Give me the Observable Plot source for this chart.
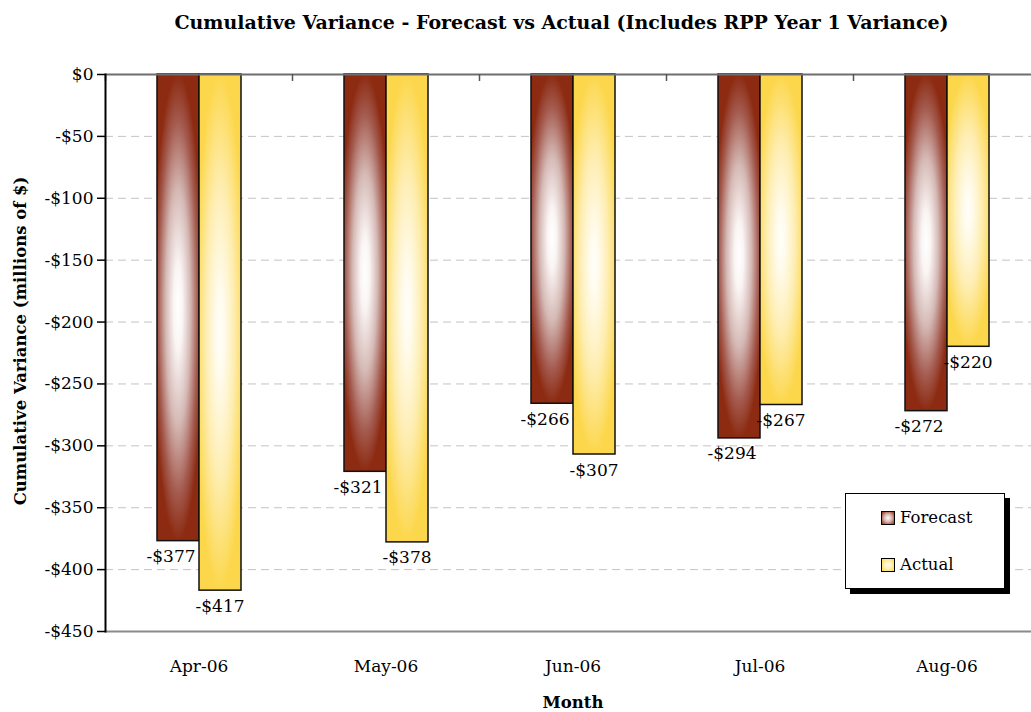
<!DOCTYPE html>
<html>
<head>
<meta charset="utf-8">
<script src="https://cdn.jsdelivr.net/npm/d3@7"></script>
<script src="https://cdn.jsdelivr.net/npm/@observablehq/plot@0.6"></script>
<style>
  html, body { margin: 0; padding: 0; background: #fff; }
  #wrap { position: relative; width: 1031px; height: 712px; overflow: hidden; font-family: "DejaVu Serif", serif; }
  #title { height: 50px; line-height: 44px; text-align: center; font-weight: bold; font-size: 19px; padding-left: 92px; box-sizing: border-box; }
  #legend { position: absolute; left: 845px; top: 493px; width: 160px; height: 96px; background: #fff; border: 1px solid #000; box-shadow: 5px 5px 0 #000; box-sizing: border-box; font-size: 16.5px; }
  .item { position: absolute; left: 35px; display: flex; align-items: center; }
  .sw { width: 12px; height: 12px; border: 1.5px solid #000; margin-right: 5px; }
</style>
</head>
<body>
<div id="wrap">
  <div id="title">Cumulative Variance - Forecast vs Actual (Includes RPP Year 1 Variance)</div>
  <div id="chart"></div>
  <div id="legend"></div>
</div>
<script>
const months = ["Apr-06", "May-06", "Jun-06", "Jul-06", "Aug-06"];
const forecast = [-377, -321, -266, -294, -272];
const actual = [-417, -378, -307, -267, -220];
const seriesNames = ["Forecast", "Actual"];
const yTicks = [0, -50, -100, -150, -200, -250, -300, -350, -400, -450];

const fcRows = months.map((m, i) => ({month: m, value: forecast[i]}));
const acRows = months.map((m, i) => ({month: m, value: actual[i]}));
const money = d => (d < 0 ? "-$" : "$") + Math.abs(d);
const gridTicks = yTicks.filter(t => t !== 0 && t !== -450);

const font = "DejaVu Serif";
const chart = Plot.plot({
  width: 1031,
  height: 662,
  marginTop: 24,
  marginBottom: 81,
  marginLeft: 105,
  marginRight: -9,
  style: {fontFamily: font, fontSize: "17px", color: "#000", background: "transparent", overflow: "visible"},
  x: {type: "band", domain: months, padding: 0, axis: null},
  y: {domain: [-450, 0], axis: null},
  marks: [
    Plot.ruleY(gridTicks, {stroke: "#c4c4c4", strokeDasharray: "8,5", strokeWidth: 1}),
    Plot.barY(fcRows, {x: "month", y: "value", fill: "url(#gradF)", stroke: "#111", strokeWidth: 1.5, insetLeft: 52, insetRight: 93}),
    Plot.barY(acRows, {x: "month", y: "value", fill: "url(#gradA)", stroke: "#111", strokeWidth: 1.5, insetLeft: 94, insetRight: 51}),
    Plot.text(fcRows, {x: "month", y: "value", text: d => money(d.value), dx: -28, dy: 9, lineAnchor: "top", fontSize: 17, fill: "#000"}),
    Plot.text(acRows, {x: "month", y: "value", text: d => money(d.value), dx: 21, dy: 9, lineAnchor: "top", fontSize: 17, fill: "#000"}),
    Plot.ruleY([0], {stroke: "#6e6e6e", strokeWidth: 2}),
    Plot.ruleY([-450], {stroke: "#8a8a8a", strokeWidth: 2}),
    Plot.ruleX(months, {x: d => d, y1: 0, y2: 0, insetBottom: -7, dx: -93.5, stroke: "#555", strokeWidth: 1.5}),
    Plot.frame({anchor: "left", stroke: "#000", strokeWidth: 2}),
    Plot.axisY({ticks: yTicks, tickSize: 8, tickPadding: 4, tickFormat: money, fontSize: 17, stroke: "#000", strokeWidth: 1.5, label: null}),
    Plot.axisX({anchor: "bottom", tickSize: 0, tickPadding: 28, fontSize: 17, label: null}),
    Plot.text(["Month"], {frameAnchor: "bottom", dy: 71, lineAnchor: "middle", fontWeight: "bold", fontSize: 16.5}),
    Plot.text(["Cumulative Variance (millions of $)"], {frameAnchor: "left", textAnchor: "middle", rotate: -90, dx: -85, dy: -12, fontWeight: "bold", fontSize: 16.5})
  ]
});

const defs = d3.select(chart).insert("defs", ":first-child");
function radial(sel, id, stops) {
  const g = sel.append("radialGradient").attr("id", id)
    .attr("cx", "0.5").attr("cy", "0.5").attr("r", "0.5")
    .attr("gradientTransform", "translate(0.5,0.5) scale(1.18,1) translate(-0.5,-0.5)");
  stops.forEach(([o, c]) => g.append("stop").attr("offset", o).attr("stop-color", c));
}
radial(defs, "gradF", [[0, "#ffffff"], [0.18, "#faf5f4"], [0.5, "#d5b9b5"], [0.8, "#a45a4e"], [1, "#8c2b12"]]);
radial(defs, "gradA", [[0, "#fffefa"], [0.18, "#fffbec"], [0.55, "#feeeb4"], [1, "#fcd74c"]]);
document.getElementById("chart").appendChild(chart);

// legend
const legend = document.getElementById("legend");
const swatchBg = {
  Forecast: "radial-gradient(circle, #ffffff 0%, #d9b8b2 45%, #8c2b12 100%)",
  Actual: "radial-gradient(circle, #fffef5 0%, #ffefb0 45%, #fcd74c 100%)"
};
seriesNames.forEach((s, i) => {
  const it = document.createElement("div");
  it.className = "item";
  it.style.top = (i === 0 ? 14 : 61) + "px";
  const sw = document.createElement("div");
  sw.className = "sw";
  sw.style.background = swatchBg[s];
  const tx = document.createElement("span");
  tx.textContent = s;
  it.appendChild(sw);
  it.appendChild(tx);
  legend.appendChild(it);
});
</script>
</body>
</html>
